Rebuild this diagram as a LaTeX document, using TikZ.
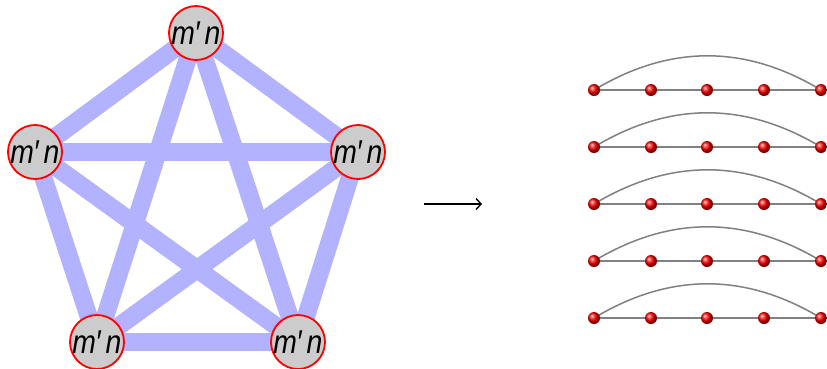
\documentclass[tikz,border=0pt]{standalone}
\usepackage{fontspec}
\setmainfont{Liberation Sans}
\usetikzlibrary{arrows.meta}
\begin{document}
\begin{tikzpicture}[x=1pt,y=-1pt,
  vtx/.style={circle,draw=red,line width=1.8pt,fill=black!20,minimum size=54pt,inner sep=0pt,
    font=\fontsize{33}{33}\selectfont\itshape},
  edge/.style={line width=18pt,draw={rgb,255:red,178;green,178;blue,255}},
  ball/.style={circle,inner sep=0pt,minimum size=12pt,ball color=red,shading=ball},
  seg/.style={draw=black!50,line width=1.5pt},
  arc/.style={draw=black!50,line width=1.5pt,bend left=31}]
\useasboundingbox (0,0) rectangle (827,368);
\newcommand{\mylab}{\scalebox{0.86}[1]{m\kern-1pt′\kern6pt n}}
% graph vertices
\coordinate (ct) at (196,33);
\coordinate (cl) at (35,152);
\coordinate (cr) at (358,152);
\coordinate (cbl) at (97,342);
\coordinate (cbr) at (298,342);
\foreach \a/\b in {ct/cl,ct/cr,ct/cbl,ct/cbr,cl/cr,cl/cbl,cl/cbr,cr/cbl,cr/cbr,cbl/cbr}
  \draw[edge] (\a) -- (\b);
\node[vtx] (t) at (ct) {\mylab};
\node[vtx] (l) at (cl) {\mylab};
\node[vtx] (r) at (cr) {\mylab};
\node[vtx] (bl) at (cbl) {\mylab};
\node[vtx] (br) at (cbr) {\mylab};
% arrow
\coordinate (as) at (424,204);
\coordinate (ae) at (482,204);
\draw[line width=1.4pt,-{Straight Barb[length=5pt,width=11pt]}] (as) -- (ae);
% chains
\foreach \r/\y in {1/90,2/147,3/204,4/261,5/318}{
  \foreach \i/\x in {1/594,2/651,3/707,4/764,5/821}
    \coordinate (p\r\i) at (\x,\y);
  \draw[seg] (p\r1) -- (p\r2) -- (p\r3) -- (p\r4) -- (p\r5);
  \draw[arc] (p\r1) to (p\r5);
  \foreach \i in {1,...,5}
    \node[ball] (b\r\i) at (p\r\i) {};
}
\end{tikzpicture}
\end{document}
